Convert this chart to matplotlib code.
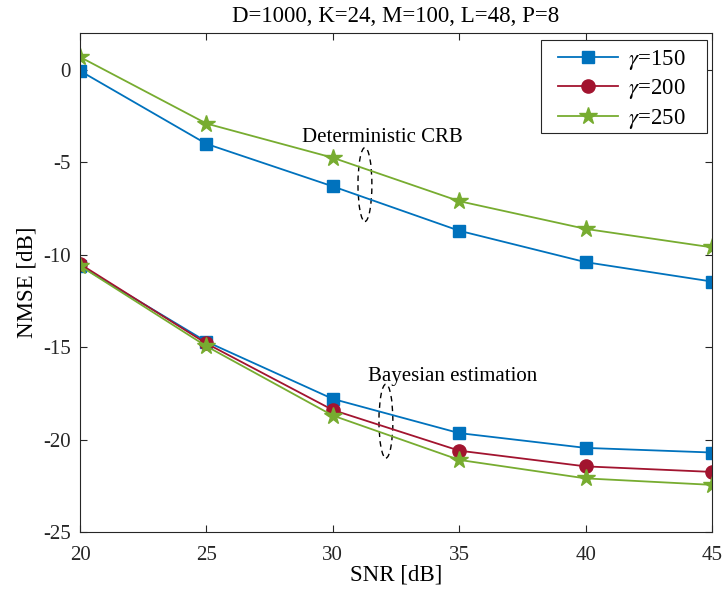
import matplotlib
matplotlib.use("Agg")
import matplotlib.pyplot as plt
from matplotlib.patches import Ellipse, Rectangle

# ----------------------------------
# Data
# ----------------------------------

snr = [20, 25, 30, 35, 40, 45]

crb_150 = [-0.05, -4.0, -6.3, -8.7, -10.4, -11.45]
crb_250 = [0.7, -2.9, -4.75, -7.1, -8.6, -9.6]

bayes_150 = [-10.6, -14.7, -17.8, -19.65, -20.45, -20.7]
bayes_200 = [-10.5, -14.8, -18.4, -20.6, -21.45, -21.75]
bayes_250 = [-10.6, -14.95, -18.7, -21.1, -22.1, -22.45]

labels = [r"$\gamma$=150", r"$\gamma$=200", r"$\gamma$=250"]

c_blue = "#0072BD"
c_red = "#A2142F"
c_green = "#77AC30"

plt.rcParams["font.family"] = ["Liberation Serif", "DejaVu Serif"]
plt.rcParams["mathtext.fontset"] = "stix"
plt.rcParams["axes.unicode_minus"] = False

# ----------------------------------
# Plot
# ----------------------------------

fig = plt.figure(figsize=(7.23, 5.89), dpi=100, facecolor="white")
ax = fig.add_axes([0.1107, 0.0968, 0.8741, 0.8472])

ax.plot(snr, bayes_150, color=c_blue, marker="s", markersize=8.5, linewidth=1.3, label=labels[0])
ax.plot(snr, bayes_200, color=c_red, marker="o", markersize=9.5, linewidth=1.3, label=labels[1])
ax.plot(snr, bayes_250, color=c_green, marker="*", markersize=13, linewidth=1.3, label=labels[2])

ax.plot(snr, crb_150, color=c_blue, marker="s", markersize=8.5, linewidth=1.3)
ax.plot(snr, crb_250, color=c_green, marker="*", markersize=13, linewidth=1.3)

# ellipses + annotations
for cx, cy in [(31.27, -6.2), (32.1, -19.0)]:
    ax.add_patch(Ellipse((cx, cy), 0.55, 4.0, fill=False,
                         edgecolor="black", linestyle=(0, (4, 3)), linewidth=1.0))

ax.text(31.95, -3.65, "Deterministic CRB", fontsize=15, ha="center", va="center")
ax.text(34.75, -16.6, "Bayesian estimation", fontsize=15, ha="center", va="center")

# ----------------------------------
# Axes
# ----------------------------------

ax.set_xlim(20, 45)
ax.set_ylim(-25, 2)
ax.set_xticks(snr)
ax.set_yticks([-25, -20, -15, -10, -5, 0])

ax.tick_params(direction="in", top=True, right=True, labelsize=15,
               length=5, width=0.8, colors="#262626")
ax.tick_params(axis="x", pad=10)
ax.tick_params(axis="y", pad=6.5)
for s in ax.spines.values():
    s.set_color("#262626")
    s.set_linewidth(0.8)

ax.set_xlabel("SNR [dB]", fontsize=16.5, labelpad=0)
ax.set_ylabel("NMSE [dB]", fontsize=16.5, labelpad=4)
ax.set_title("D=1000, K=24, M=100, L=48, P=8", fontsize=16.5, pad=8)

# ----------------------------------
# Legend (MATLAB-like box)
# ----------------------------------

ax.add_patch(Rectangle((0.7294, 0.7996), 0.2627, 0.1864, transform=ax.transAxes,
                       facecolor="white", edgecolor="#262626", linewidth=0.8,
                       zorder=4.5))

leg = ax.legend(loc="center", bbox_to_anchor=(0.858, 0.8868), fontsize=16.5,
                frameon=False, handlelength=2.6, handletextpad=0.45,
                borderpad=0, labelspacing=0.23)

plt.savefig("out.png", dpi=100)
